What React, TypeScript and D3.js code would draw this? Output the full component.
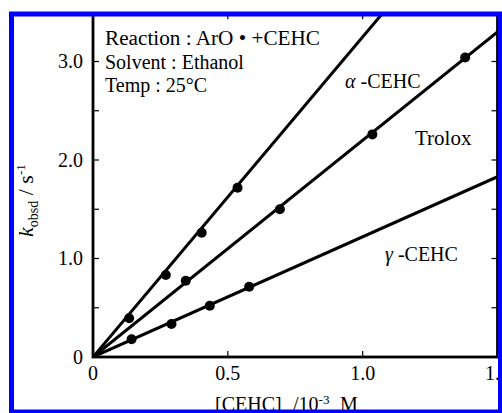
import * as d3 from 'd3'

const W = 502
const H = 413
const FONT = '"Liberation Serif", "Times New Roman", serif'

// measured points
const alphaX = [0.134, 0.27, 0.403, 0.536]
const alphaY = [0.393, 0.832, 1.262, 1.719]
const troloxX = [0.344, 0.693, 1.036, 1.38]
const troloxY = [0.775, 1.5, 2.26, 3.04]
const gammaX = [0.143, 0.291, 0.433, 0.579]
const gammaY = [0.18, 0.335, 0.521, 0.714]

// fitted lines, start and visible end
const alphaFit = [[0, 0], [1.077, 3.5]]
const troloxFit = [[0, 0], [1.5, 3.3]]
const gammaFit = [[0, 0], [1.5, 1.83]]

const xTicks = [0, 0.5, 1.0, 1.5]
const xTickLabels = ['0', '0.5', '1.0', '1.5']
const yTicks = [0, 0.5, 1, 1.5, 2, 2.5, 3, 3.5]
const yTickLabels = ['0', '', '1.0', '', '2.0', '', '3.0', '']

const x = d3.scaleLinear().domain([0, 1.5]).range([93, 497.5])
const y = d3.scaleLinear().domain([0, 3.5]).range([357, 12.25])

const line = d3.line<number[]>().x(d => x(d[0])).y(d => y(d[1]))

export default function App() {
  const series = [
    { xs: alphaX, ys: alphaY, fit: alphaFit },
    { xs: troloxX, ys: troloxY, fit: troloxFit },
    { xs: gammaX, ys: gammaY, fit: gammaFit },
  ]
  const [x0, x1] = x.range()
  const [y0, y1] = y.range()

  return (
    <div style={{ position: 'fixed', left: 0, top: 0 }}>
      <svg width={W} height={H} style={{ display: 'block', background: '#fff' }} fontFamily={FONT}>
        <defs>
          <clipPath id="plot">
            <rect x={x0} y={y1} width={x1 - x0} height={y0 - y1} />
          </clipPath>
        </defs>

        {/* fitted lines and points */}
        <g clipPath="url(#plot)">
          {series.map((s, i) => (
            <g key={i}>
              <path d={line(s.fit) || ''} fill="none" stroke="#000" strokeWidth={3} />
              {s.xs.map((v, j) => (
                <circle key={j} cx={x(v)} cy={y(s.ys[j])} r={5} fill="#000" />
              ))}
            </g>
          ))}
        </g>

        {/* frame */}
        <rect x={x0} y={y1} width={x1 - x0} height={y0 - y1} fill="none" stroke="#000" strokeWidth={2.8} />

        {/* ticks */}
        {xTicks.map((t, i) => (
          <g key={'x' + i}>
            <line x1={x(t)} x2={x(t)} y1={y0} y2={y0 - 6} stroke="#000" strokeWidth={1.2} />
            <line x1={x(t)} x2={x(t)} y1={y1} y2={y1 + 7} stroke="#000" strokeWidth={1.2} />
            <text x={x(t)} y={380} textAnchor="middle" fontSize={20}>{xTickLabels[i]}</text>
          </g>
        ))}
        {yTicks.map((t, i) => (
          <g key={'y' + i}>
            <line x1={x0} x2={x0 + 6} y1={y(t)} y2={y(t)} stroke="#000" strokeWidth={1.2} />
            <line x1={x1} x2={x1 - 6} y1={y(t)} y2={y(t)} stroke="#000" strokeWidth={1.2} />
            <text x={83} y={y(t) + 6.5} textAnchor="end" fontSize={20}>{yTickLabels[i]}</text>
          </g>
        ))}

        {/* annotations */}
        <text x={105} y={45} fontSize={20} textLength={215} lengthAdjust="spacingAndGlyphs">Reaction : ArO • +CEHC</text>
        <text x={105} y={68.5} fontSize={20}>Solvent : Ethanol</text>
        <text x={105} y={92} fontSize={20}>Temp : 25°C</text>
        <text x={345} y={88} fontSize={20}><tspan fontStyle="italic">α</tspan> -CEHC</text>
        <text x={415} y={145} fontSize={21}>Trolox</text>
        <text x={385} y={261} fontSize={20}><tspan fontStyle="italic">γ</tspan> -CEHC</text>

        {/* axis titles */}
        <text y={411} fontSize={20}>
          <tspan x={215}>[CEHC]</tspan>
          <tspan x={293}>/10</tspan>
          <tspan dy={-7} fontSize={13}>-3</tspan>
          <tspan x={340} dy={7}>M</tspan>
        </text>
        <text transform="translate(33,237) rotate(-90)" fontSize={22}>
          <tspan fontStyle="italic">k</tspan>
          <tspan dy={5} fontSize={14}>obsd</tspan>
          <tspan dy={-5}> / s</tspan>
          <tspan dy={-8} fontSize={13}>-1</tspan>
        </text>

        {/* blue border */}
        <rect x={0} y={0} width={W} height={12} fill="#fff" />
        <rect x={0} y={0} width={9} height={H} fill="#fff" />
        <rect x={11.5} y={14} width={489} height={398} fill="none" stroke="#0000ff" strokeWidth={5} />
      </svg>
    </div>
  )
}
